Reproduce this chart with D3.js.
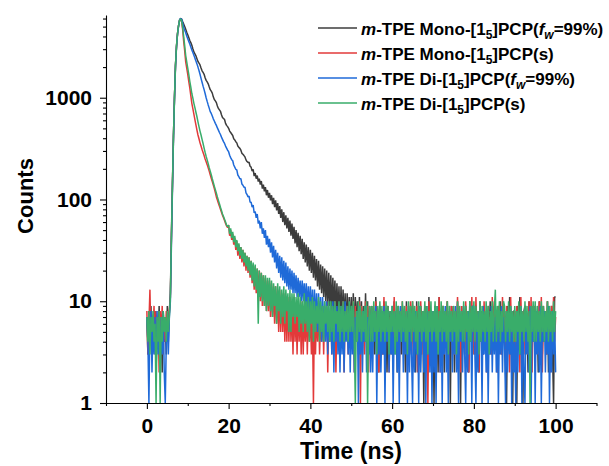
<!DOCTYPE html>
<html><head><meta charset="utf-8">
<script src="https://cdn.jsdelivr.net/npm/d3@7"></script>
<style>
html,body{margin:0;padding:0;background:#fff;}
svg text{font-family:"Liberation Sans",Arial,Helvetica,sans-serif;font-weight:bold;fill:#000;}
</style></head>
<body>
<svg id="chart" width="609" height="466"></svg>
<script>
// one channel every 0.25 ns from 0 to 100 ns
const timeStep = 0.25;
// counts, one value per channel (20 channels = 5 ns per row)
const blackCounts = [
7,3,8,4,9,3,7,5,8,2,6,4,9,3,7,2,8,4,6,3,
9,4,8,12,45,140,420,1000,2100,3200,4300,5100,5800,6000,5950,5600,5300,5000,4700,4400,
4150,3900,3650,3480,3280,3030,2820,2700,2580,2420,2270,2190,2100,1960,1840,1770,1700,1570,1480,1430,
1370,1280,1200,1160,1110,1020,960,930,895,830,785,760,735,680,640,625,610,560,535,520,
500,470,455,440,425,395,385,370,360,335,325,318,305,284,278,270,262,245,236,231,
232,212,208,190,198,170,182,160,172,150,160,140,152,128,140,120,132,110,124,104,
116,98,110,90,104,84,98,78,92,72,86,66,80,60,75,56,70,52,66,48,
62,44,58,41,54,37,50,34,47,31,44,29,41,26,38,24,36,22,34,20,
32,19,30,17,28,16,26,14,25,13,23,12,22,11,21,10,20,9,19,9,
18,8,17,8,16,7,15,7,14,6,14,6,13,6,12,5,12,5,11,5,
11,5,12,4,11,5,10,4,11,4,10,3,9,4,12,4,10,3,9,4,
9,4,8,3,11,5,7,2,9,4,8,3,10,5,7,2,9,4,8,3,
8,3,10,5,7,2,9,4,8,3,9,5,7,2,10,4,8,3,9,5,
9,5,7,2,10,4,8,3,9,5,7,1,9,4,8,2,11,3,7,5,
7,1,9,4,8,2,11,3,7,5,9,2,8,4,10,3,7,1,9,4,
9,2,8,4,10,3,7,1,9,4,8,3,9,5,7,2,10,4,8,3,
8,3,9,5,7,2,10,4,8,3,9,4,7,2,8,5,10,3,9,4,
9,4,7,2,8,5,10,3,9,4,8,2,1,9,4,11,3,7,1,8,
8,2,1,9,4,11,3,7,1,8,9,4,7,2,10,5,8,3,9,4,
9,4,7,2,10,5,8,3,9,4,7,3,10,2,8,5,9,3,1,11,
11];
const redCounts = [
8,3,6,13,4,7,5,9,3,8,4,7,2,8,5,9,3,7,4,8,
7,5,8,11,40,130,400,980,2050,3200,4250,5100,5750,5900,5600,4700,3600,2900,2250,1950,
1700,1450,1250,1050,880,780,690,610,540,480,430,395,360,335,310,290,270,250,235,220,
205,190,175,162,150,139,128,117,106,99,92,86,80,75,70,66,62,58,55,53,
56,44,50,40,46,36,42,32,39,28,36,26,34,24,32,22,30,20,28,19,
27,17,25,15,23,13,22,12,21,11,20,10,19,9,18,9,17,8,16,8,
16,7,15,7,14,6,14,6,13,5,13,5,12,5,12,4,11,4,11,4,
11,4,10,3,11,4,9,3,10,4,9,3,10,3,8,4,9,3,10,4,
8,3,7,1,9,3,8,4,10,3,7,4,9,3,8,5,10,2,7,4,
9,3,8,5,10,2,7,4,9,3,8,4,10,2,7,5,9,3,8,4,
8,4,10,2,9,5,7,3,10,1,9,5,8,3,10,4,9,2,8,5,
9,3,7,5,10,4,8,2,9,5,7,3,11,4,8,5,9,2,7,4,
7,3,11,4,8,5,9,2,7,4,10,3,8,5,9,2,7,4,10,3,
10,3,8,5,9,2,7,4,10,3,8,5,9,2,7,1,10,4,8,5,
8,5,9,3,7,4,11,2,8,5,9,3,7,4,10,2,8,5,9,3,
9,3,7,4,11,5,8,2,9,4,7,3,10,5,8,2,9,4,11,3,
7,3,11,5,8,2,9,4,7,3,10,4,8,2,9,5,7,3,11,4,
10,4,8,2,9,5,7,3,11,4,8,3,9,5,7,2,11,4,8,3,
8,3,9,5,7,2,11,4,8,3,9,5,7,3,10,4,11,2,9,5,
9,5,7,3,10,4,11,2,9,5,8,3,10,4,7,2,9,5,11,4,
7];
const blueCounts = [
7,4,1,6,8,2,6,3,7,2,8,3,6,2,7,3,8,2,1,4,
6,3,7,10,35,120,380,950,2000,3150,4200,5050,5800,6000,5900,5400,4900,4600,4350,4050,
3800,3580,3370,3150,2950,2780,2620,2450,2300,2150,2000,1850,1700,1550,1420,1300,1200,1100,1000,920,
850,790,730,700,660,620,590,560,535,505,480,455,435,410,390,370,355,335,320,305,
295,272,258,246,240,218,208,198,195,174,168,160,160,142,138,132,132,116,112,106,
108,94,94,84,88,74,76,66,72,58,62,52,60,46,52,42,50,36,44,34,
41,30,38,27,35,24,32,21,30,19,28,17,27,16,25,15,24,14,22,13,
21,13,20,12,19,12,18,11,17,11,16,10,16,10,15,9,15,8,14,8,
14,7,13,6,13,6,12,5,12,5,11,4,11,4,10,4,10,3,9,4,
9,3,10,2,8,4,9,3,7,2,9,3,8,2,10,4,7,3,9,2,
8,3,9,2,7,4,8,1,9,3,7,2,8,4,9,2,7,3,8,2,
7,2,8,4,9,1,7,3,8,2,6,3,9,1,7,4,8,2,6,3,
9,1,6,3,8,2,7,1,9,4,7,2,8,3,6,1,9,2,7,3,
1,7,2,8,3,6,1,9,2,5,8,2,7,1,9,3,6,2,8,1,
8,2,7,1,9,3,6,2,8,1,7,3,9,2,6,1,8,4,7,2,
7,3,9,2,6,1,8,4,7,2,9,3,1,7,2,8,4,6,1,9,
9,3,1,7,2,8,4,6,1,9,3,7,2,8,1,6,3,9,2,7,
3,7,2,8,1,6,3,9,2,7,4,1,8,2,7,3,9,1,6,2,
4,1,8,2,7,3,9,1,6,2,1,8,3,7,2,9,1,6,4,8,
1,8,3,7,2,9,1,6,4,8,2,7,3,9,1,6,2,8,3,7,
2];
const greenCounts = [
7,4,8,3,7,5,8,4,6,1,7,4,8,1,7,4,8,5,7,4,
8,5,7,11,42,135,410,990,2080,3250,4280,5100,5780,5950,5700,4900,4000,3250,2600,2250,
1950,1700,1450,1270,1100,990,880,800,720,650,580,520,470,430,390,355,320,290,265,245,
225,205,190,175,160,147,135,125,115,106,98,91,84,78,72,68,64,60,56,54,
56,46,52,42,48,38,44,34,40,31,37,28,34,26,32,24,30,22,28,20,
27,18,25,16,24,14,23,13,21,6,20,11,19,10,18,9,18,8,17,9,
17,8,16,7,15,9,14,6,15,8,14,6,13,7,14,6,13,8,12,5,
13,5,12,7,12,6,11,7,12,5,11,6,10,5,12,6,10,5,11,4,
10,6,11,4,10,5,9,6,11,4,10,5,9,4,10,6,9,5,10,4,
10,5,9,4,10,6,8,5,10,4,9,5,10,4,8,5,9,4,10,5,
9,5,10,4,1,8,4,10,5,9,4,8,5,9,4,10,1,6,9,4,
9,4,10,5,8,3,9,5,10,4,9,5,8,4,10,5,9,3,8,5,
9,5,8,3,10,4,9,5,8,4,10,5,9,4,8,3,10,5,9,4,
10,5,9,4,8,3,10,5,9,4,8,5,10,4,9,3,8,5,10,4,
8,5,10,4,9,3,8,5,10,4,9,5,8,4,10,3,9,5,8,4,
9,5,8,3,10,4,9,5,8,4,10,4,9,5,8,3,10,4,9,5,
10,4,9,5,8,3,10,4,9,5,8,4,10,5,9,3,8,5,10,4,
8,13,4,9,5,10,4,8,5,10,9,4,8,5,10,4,9,5,8,4,
9,4,8,5,10,3,9,5,8,4,10,5,9,4,8,1,9,5,10,4,
10,4,9,5,8,4,10,5,9,4,8,5,10,4,9,5,8,4,10,5,
8];
const seriesColors = ["#3c3c3c","#e23a3a","#1f6ad8","#39ad6a"];
const xTicks = [0,20,40,60,80,100];
const xMinorTicks = [-10,10,30,50,70,90,110];
const yTicks = [1,10,100,1000];
const yMinorTicks = [2,3,4,5,6,7,8,9,20,30,40,50,60,70,80,90,200,300,400,500,600,700,800,900,2000,3000,4000,5000,6000];

const svg = d3.select("#chart");
const x = d3.scaleLinear().domain([-10,110]).range([106,596.5]);
const y = d3.scaleLog().domain([1,6500]).range([403,15]);

const allSeries = [blackCounts, redCounts, blueCounts, greenCounts];
const line = d3.line().x((d,i)=>x(i*timeStep)).y(d=>y(d));
allSeries.forEach((s,k)=>{
  svg.append("path").datum(s).attr("d",line)
    .attr("fill","none").attr("stroke",seriesColors[k])
    .attr("stroke-width",1.5).attr("stroke-linejoin","bevel");
});
const bad = allSeries.map(s=>s.length).filter(n=>n!==401);
if(bad.length) svg.append("text").attr("x",200).attr("y",200).attr("fill","magenta").text("LEN "+allSeries.map(s=>s.length).join(","));

// axes
const gx = svg.append("g").attr("transform","translate(0,403)")
  .call(d3.axisBottom(x).tickValues(xTicks).tickSize(6).tickSizeOuter(0).tickPadding(9).tickFormat(d3.format("d")));
svg.append("g").attr("transform","translate(0,403)")
  .call(d3.axisBottom(x).tickValues(xMinorTicks).tickSize(3).tickFormat(""))
  .call(g=>g.select(".domain").remove());
const gy = svg.append("g").attr("transform","translate(106,0)")
  .call(d3.axisLeft(y).tickValues(yTicks).tickSize(6).tickSizeOuter(0).tickPadding(8).tickFormat(d3.format("d")));
svg.append("g").attr("transform","translate(106,0)")
  .call(d3.axisLeft(y).tickValues(yMinorTicks).tickSize(3).tickFormat(""))
  .call(g=>g.select(".domain").remove());
svg.selectAll(".tick line, .domain").attr("stroke","#000").attr("stroke-width",1.1);
gx.selectAll("text").attr("font-size",21).attr("font-family","Liberation Sans, Arial").attr("font-weight","bold");
gy.selectAll("text").attr("font-size",21).attr("font-family","Liberation Sans, Arial").attr("font-weight","bold");

// titles
svg.append("text").attr("transform","translate(33,196) rotate(-90)")
  .attr("text-anchor","middle").attr("font-size",22).text("Counts");
svg.append("text").attr("x",351).attr("y",459)
  .attr("text-anchor","middle").attr("font-size",23).text("Time (ns)");

// legend
const legendRows = [
  [{t:"m",i:true},{t:"-TPE Mono-[1"},{t:"5",sub:true},{t:"]PCP("},{t:"f",i:true},{t:"w",sub:true,i:true},{t:"=99%)"}],
  [{t:"m",i:true},{t:"-TPE Mono-[1"},{t:"5",sub:true},{t:"]PCP(s)"}],
  [{t:"m",i:true},{t:"-TPE Di-[1"},{t:"5",sub:true},{t:"]PCP("},{t:"f",i:true},{t:"w",sub:true,i:true},{t:"=99%)"}],
  [{t:"m",i:true},{t:"-TPE Di-[1"},{t:"5",sub:true},{t:"]PCP(s)"}]
];
legendRows.forEach((row,k)=>{
  const ly = 28 + k*25;
  svg.append("line").attr("x1",318).attr("x2",357).attr("y1",ly).attr("y2",ly)
    .attr("stroke",seriesColors[k]).attr("stroke-width",1.4);
  const t = svg.append("text").attr("x",361).attr("y",ly+7).attr("font-size",17);
  let shifted = 0;
  row.forEach(p=>{
    const ts = t.append("tspan").text(p.t);
    if(p.i) ts.attr("font-style","italic");
    if(p.sub){ ts.attr("font-size",12).attr("dy",4); shifted = 4; }
    else if(shifted){ ts.attr("dy",-shifted); shifted = 0; }
  });
});
</script>
</body></html>
